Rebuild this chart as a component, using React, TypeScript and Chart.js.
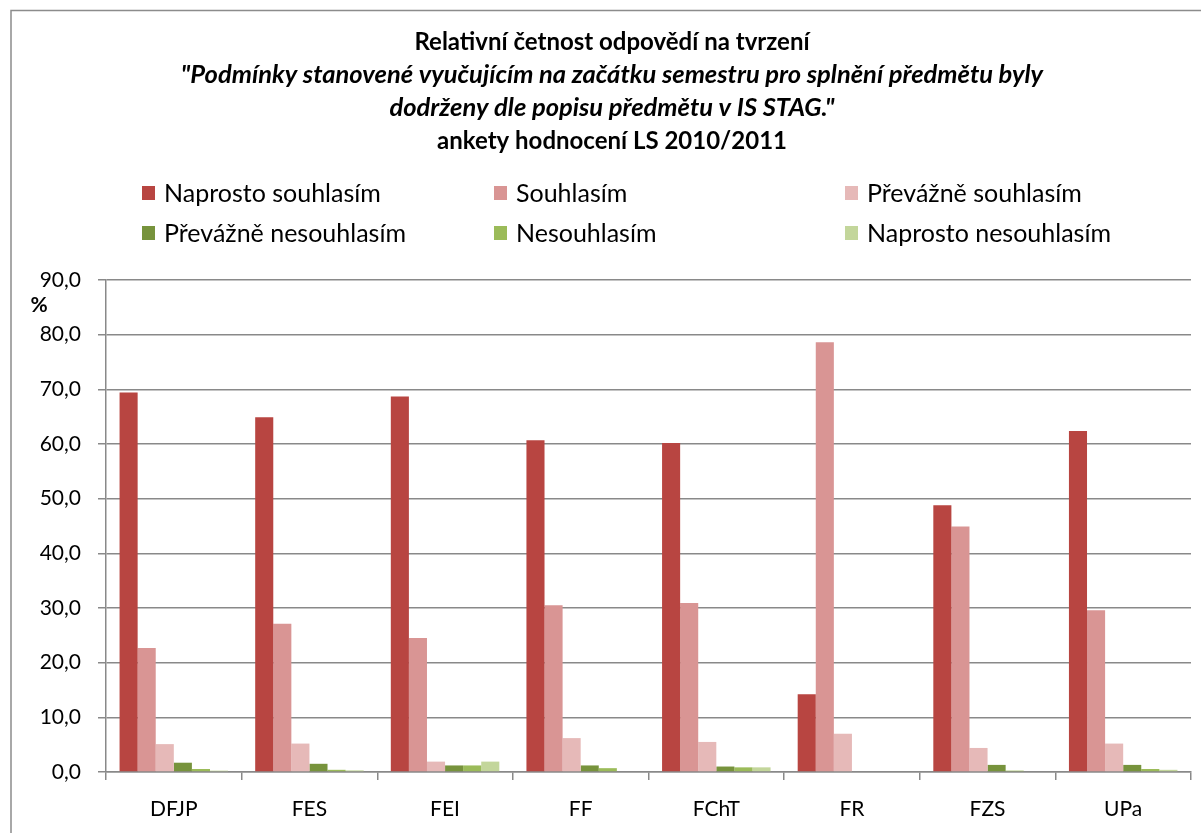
import React, { useEffect, useRef } from "react";
import { Chart, registerables } from "chart.js";

Chart.register(...registerables);

const FONT = "Lato, 'Open Sans', sans-serif";
const GRID = "#898989";

const categories = ["DFJP", "FES", "FEI", "FF", "FChT", "FR", "FZS", "UPa"];

const naprostoSouhlasim = [69.4, 64.9, 68.7, 60.7, 60.2, 14.2, 48.8, 62.4];
const souhlasim = [22.7, 27.1, 24.5, 30.5, 30.9, 78.6, 44.9, 29.6];
const prevazneSouhlasim = [5.1, 5.2, 1.9, 6.2, 5.5, 7.0, 4.4, 5.2];
const prevazneNesouhlasim = [1.7, 1.5, 1.2, 1.2, 1.0, 0, 1.3, 1.3];
const nesouhlasim = [0.55, 0.4, 1.2, 0.7, 0.85, 0, 0.25, 0.55];
const naprostoNesouhlasim = [0.25, 0.3, 1.9, 0, 0.85, 0, 0, 0.4];

const seriesLabels = [
  "Naprosto souhlasím",
  "Souhlasím",
  "Převážně souhlasím",
  "Převážně nesouhlasím",
  "Nesouhlasím",
  "Naprosto nesouhlasím",
];
const seriesValues = [
  naprostoSouhlasim,
  souhlasim,
  prevazneSouhlasim,
  prevazneNesouhlasim,
  nesouhlasim,
  naprostoNesouhlasim,
];
const seriesColors = ["#B84541", "#D99594", "#E6B9B8", "#77933C", "#9BBB59", "#C3D69B"];

const titleLines = [
  "Relativní četnost odpovědí na tvrzení",
  "\"Podmínky stanovené vyučujícím na začátku semestru pro splnění předmětu byly",
  "dodrženy dle popisu předmětu v IS STAG.\"",
  "ankety hodnocení LS 2010/2011",
];
const titleItalic = [false, true, true, false];
const yUnit = "%";
const yMin = 0;
const yMax = 90;
const yStep = 10;

export default function App() {
  const ref = useRef<HTMLCanvasElement>(null);

  useEffect(() => {
    const canvas = ref.current;
    if (!canvas) return;

    const decor = {
      id: "decor",
      beforeDraw(chart: any) {
        const ctx = chart.ctx;
        ctx.save();
        ctx.fillStyle = "#ffffff";
        ctx.fillRect(0, 0, chart.width, chart.height);
        ctx.strokeStyle = "#8c8c8c";
        ctx.lineWidth = 1.5;
        ctx.beginPath();
        ctx.moveTo(11, chart.height + 5);
        ctx.lineTo(11, 10.5);
        ctx.lineTo(chart.width + 5, 10.5);
        ctx.stroke();
        ctx.restore();
      },
      afterDraw(chart: any) {
        const ctx = chart.ctx;
        ctx.save();
        ctx.fillStyle = "#000";
        ctx.textAlign = "center";
        ctx.textBaseline = "middle";
        const titleY = [42, 75, 108, 141];
        titleLines.forEach((t, i) => {
          ctx.font = titleItalic[i] ? `italic bold 25.5px ${FONT}` : `bold 24px ${FONT}`;
          ctx.fillText(t, 612, titleY[i]);
        });
        // legend
        const colX = [142, 494, 845];
        const rowY = [193, 233];
        ctx.textAlign = "left";
        ctx.font = `25px ${FONT}`;
        seriesLabels.forEach((lab, i) => {
          const x = colX[i % 3];
          const y = rowY[Math.floor(i / 3)];
          ctx.fillStyle = seriesColors[i];
          ctx.fillRect(x, y - 7, 13, 14);
          ctx.fillStyle = "#000";
          ctx.fillText(lab, x + 22, y + 1);
        });
        // unit
        ctx.textAlign = "center";
        ctx.font = `bold 21px ${FONT}`;
        ctx.fillText(yUnit, 39, 305);
        ctx.restore();
      },
    };

    const chart = new Chart(canvas, {
      type: "bar",
      data: {
        labels: categories,
        datasets: seriesValues.map((vals, i) => ({
          label: seriesLabels[i],
          data: vals,
          backgroundColor: seriesColors[i],
          borderWidth: 0,
        })),
      },
      options: {
        responsive: false,
        animation: false,
        layout: { padding: { top: 280, right: 10, bottom: 8, left: 0 } },
        datasets: { bar: { categoryPercentage: 0.8, barPercentage: 1 } } as any,
        plugins: {
          legend: { display: false },
          title: { display: false },
          tooltip: { enabled: false },
        },
        scales: {
          x: {
            grid: {
              display: true,
              drawOnChartArea: false,
              drawTicks: true,
              tickLength: 8,
              color: GRID,
              lineWidth: 1.5,
              offset: true,
            },
            border: { color: GRID, width: 1.5 },
            ticks: { font: { family: FONT, size: 21 }, color: "#000", padding: 17 },
            afterFit(s: any) {
              s.height = 53;
            },
          },
          y: {
            min: yMin,
            max: yMax,
            ticks: {
              stepSize: yStep,
              font: { family: FONT, size: 21 },
              color: "#000",
              padding: 17,
              callback: (v: any) => Number(v).toFixed(1).replace(".", ","),
            },
            grid: { color: GRID, lineWidth: 1.5, tickLength: 8 },
            border: { color: GRID, width: 1.5 },
            afterFit(s: any) {
              s.width = 106;
            },
          },
        },
      },
      plugins: [decor],
    });
    return () => chart.destroy();
  }, []);

  return (
    <div style={{ position: "fixed", left: 0, top: 0, width: 1201, height: 833, background: "#fff" }}>
      <canvas ref={ref} width={1201} height={833} style={{ display: "block", width: 1201, height: 833 }} />
    </div>
  );
}
